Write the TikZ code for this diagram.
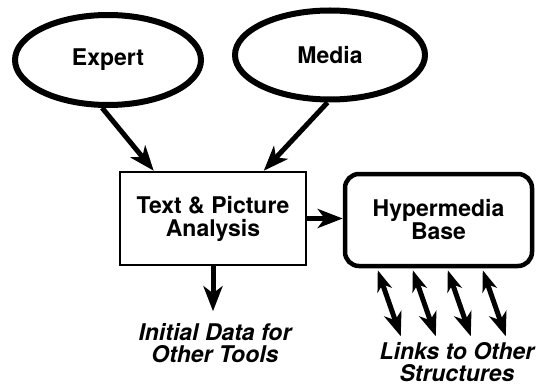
\documentclass[tikz,border=0pt]{standalone}
\usepackage{fontspec}
\setmainfont{TeX Gyre Heros}
\usetikzlibrary{arrows.meta,shapes.geometric,calc}
\begin{document}
\begin{tikzpicture}[x=1pt,y=-1pt,
  lbl/.style={font=\bfseries\fontsize{23}{23}\selectfont, align=center, inner sep=0pt},
  ilbl/.style={font=\bfseries\itshape\fontsize{23}{22}\selectfont, align=center, inner sep=0pt},
  src/.style={ellipse, draw, line width=6pt, inner sep=0pt, lbl},
  flow/.style={line width=5pt, -{Stealth[length=25pt,width=19pt,inset=7pt]}},
  link/.style={line width=5pt, {Stealth[length=21pt,width=15pt,inset=6pt]}-{Stealth[length=24pt,width=18pt,inset=7pt]}}
]
\useasboundingbox (0,0) rectangle (540,390);
% sources
\node[src, minimum width=186pt, minimum height=90pt] (expert) at (108,60) {Expert};
\node[src, minimum width=190pt, minimum height=89pt] (media) at (330,55) {Media};
% processing boxes
\node[draw, line width=2.5pt, minimum width=186pt, minimum height=93pt, lbl] (tpa) at (213,218.5) {Text \& Picture\\Analysis};
\node[draw, line width=4.5pt, rounded corners=14pt, minimum width=187pt, minimum height=92pt, lbl] (hb) at (438.5,220) {Hypermedia\\Base};
% connectors into and out of the analysis
\coordinate (ein) at ($(tpa.north west)+(35,0)$);
\coordinate (min) at ($(tpa.north west)+(145,0)$);
\draw[flow] (expert.-97) -- (ein);
\draw[flow] (media.-93) -- (min);
\draw[flow] (tpa.east) -- (tpa.east -| hb.west);
\coordinate (dd) at ($(tpa.south)+(0,45)$);
\draw[flow] (tpa.south) -- (dd);
\node[ilbl] (init) at (215,343) {Initial Data for\\Other Tools};
% links out of the hypermedia base
\foreach \d [count=\i] in {35,70,105,140}{
  \coordinate (lt\i) at ($(hb.south west)+(\d,2)$);
  \coordinate (lb\i) at ($(lt\i)+(23,66)$);
  \draw[link] (lt\i) -- (lb\i);
}
\node[ilbl] (links) at (457,362) {Links to Other\\Structures};
\end{tikzpicture}
\end{document}
